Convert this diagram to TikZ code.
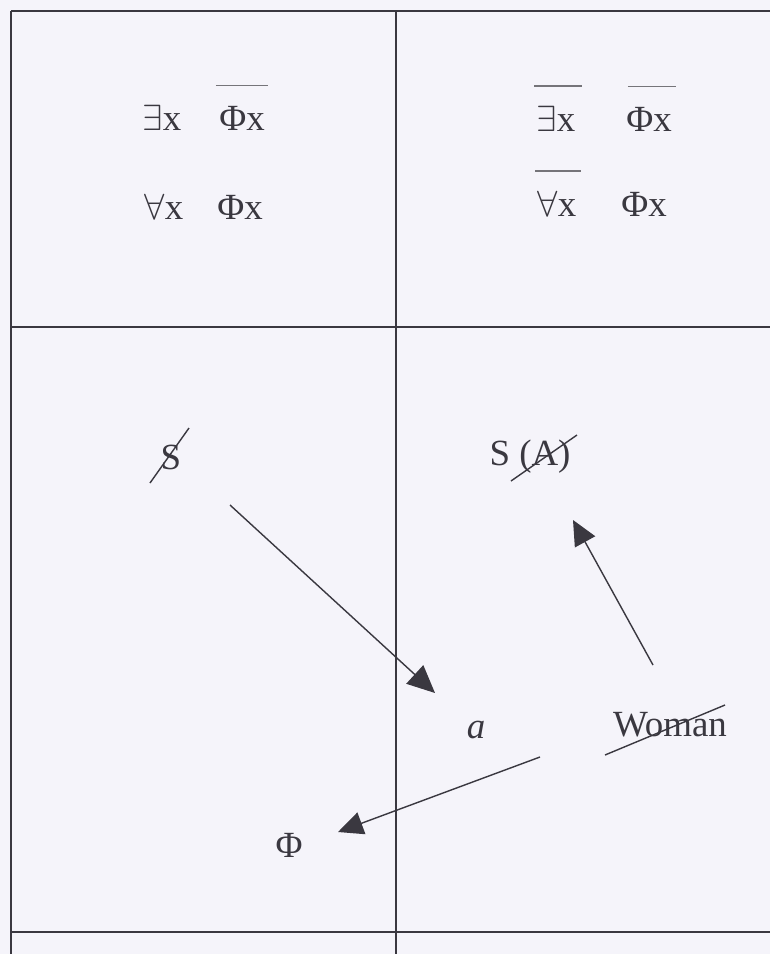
\documentclass[tikz,border=0pt]{standalone}
\usepackage{fontspec}
\setmainfont{Liberation Serif}
\usepackage{xcolor}
\usetikzlibrary{arrows.meta}
\definecolor{paper}{RGB}{245,244,250}
\definecolor{ink}{RGB}{58,56,64}

\begin{document}
\begin{tikzpicture}[
x=0.02cm, y=-0.02cm,
term/.style={inner sep=0pt, text=ink, font=\fontsize{21}{25}\selectfont},
grid/.style={draw=ink, line width=0.9pt},
bar/.style={draw=ink!70, line width=0.8pt},
strike/.style={draw=ink, line width=0.8pt},
arrow/.style={-{Triangle[length=5mm, width=4.6mm]}, draw=ink, line width=0.8pt}
]
\fill[paper] (0,0) rectangle (770,954);
\useasboundingbox (0,0) rectangle (770,954);

\draw[grid] (11,11) -- (770,11);
\draw[grid] (11,327) -- (770,327);
\draw[grid] (11,932) -- (770,932);
\draw[grid] (11,11) -- (11,954);
\draw[grid] (396,11) -- (396,954);

\node[term] (ex1) at (162,118) {$\exists$x};
\node[term] (phx1) at (242,118) {Φx};
\node[term] (all1) at (164,207) {$\forall$x};
\node[term] (phx2) at (240,207) {Φx};
\draw[bar] ([shift={(-3,-20)}]phx1.north west) -- ([shift={(3,-20)}]phx1.north east);

\node[term] (ex2) at (556,119) {$\exists$x};
\node[term] (phx3) at (649,119) {Φx};
\node[term] (all2) at (557,204) {$\forall$x};
\node[term] (phx4) at (644,204) {Φx};
\draw[bar] ([shift={(-2,-20)}]ex2.north west) -- ([shift={(6,-20)}]ex2.north east);
\draw[bar] ([shift={(2,-20)}]phx3.north west) -- ([shift={(4,-20)}]phx3.north east);
\draw[bar] ([shift={(-2,-20)}]all2.north west) -- ([shift={(4,-20)}]all2.north east);

\node[term] (s) at (171,457) {S};
\node[term] (sa) at (530,457) {S (A)};
\node[term] (a) at (476,730) {\itshape a};
\node[term] (woman) at (670,725) {Woman};
\node[term] (phi) at (289,845) {Φ};

\draw[strike] ([shift={(-21,26)}]s.center) -- ([shift={(18,-29)}]s.center);
\draw[strike] ([shift={(-19,24)}]sa.center) -- ([shift={(47,-22)}]sa.center);
\draw[strike] ([shift={(-65,30)}]woman.center) -- ([shift={(55,-20)}]woman.center);

\coordinate (s-tail) at (230,505);
\coordinate (a-tip) at (435,693);
\coordinate (woman-tail) at (653,665);
\coordinate (sa-tip) at (573,520);
\coordinate (a-tail) at (540,757);
\coordinate (phi-tip) at (338,832);

\draw[arrow, -{Triangle[length=5.5mm, width=5mm]}] (s-tail) -- (a-tip);
\draw[arrow] (woman-tail) -- (sa-tip);
\draw[arrow] (a-tail) -- (phi-tip);
\end{tikzpicture}
\end{document}
